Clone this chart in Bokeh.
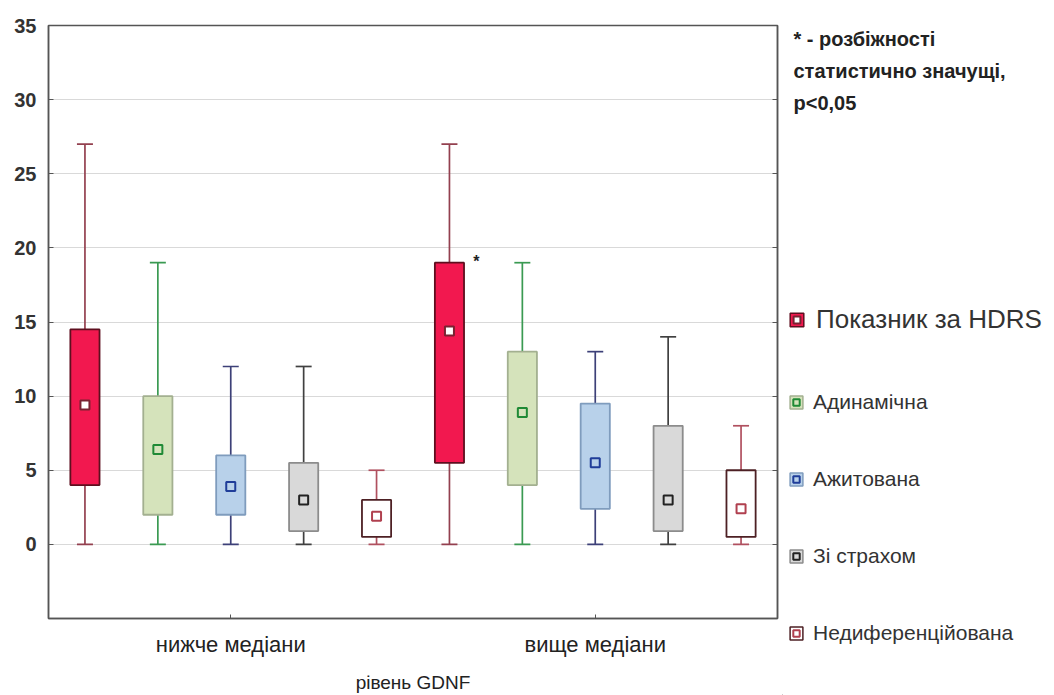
from bokeh.plotting import figure
from bokeh.layouts import row, column
from bokeh.models import (FixedTicker, LinearAxis, Range1d, Label, Legend,
                          LegendItem, ColumnDataSource)
from bokeh.embed import file_html
from bokeh.resources import INLINE

# ---------------- data ----------------
groups = ["нижче медіани", "вище медіани"]
series = ["Показник за HDRS", "Адинамічна", "Ажитована", "Зі страхом", "Недиференційована"]

# per series: [нижче медіани, вище медіани]
hdrs_min = [0, 0]
hdrs_q1 = [4, 5.5]
hdrs_mid = [9.4, 14.4]
hdrs_q3 = [14.5, 19]
hdrs_max = [27, 27]

adyn_min = [0, 0]
adyn_q1 = [2, 4]
adyn_mid = [6.4, 8.9]
adyn_q3 = [10, 13]
adyn_max = [19, 19]

azhyt_min = [0, 0]
azhyt_q1 = [2, 2.4]
azhyt_mid = [3.9, 5.5]
azhyt_q3 = [6, 9.5]
azhyt_max = [12, 13]

strakh_min = [0, 0]
strakh_q1 = [0.9, 0.9]
strakh_mid = [3, 3]
strakh_q3 = [5.5, 8]
strakh_max = [12, 14]

nedyf_min = [0, 0]
nedyf_q1 = [0.5, 0.5]
nedyf_mid = [1.9, 2.4]
nedyf_q3 = [3, 5]
nedyf_max = [5, 8]

y_ticks = [0, 5, 10, 15, 20, 25, 30, 35]
note_lines = ["* - розбіжності", "статистично значущі,", "p<0,05"]

stats = [
    (hdrs_min, hdrs_q1, hdrs_mid, hdrs_q3, hdrs_max),
    (adyn_min, adyn_q1, adyn_mid, adyn_q3, adyn_max),
    (azhyt_min, azhyt_q1, azhyt_mid, azhyt_q3, azhyt_max),
    (strakh_min, strakh_q1, strakh_mid, strakh_q3, strakh_max),
    (nedyf_min, nedyf_q1, nedyf_mid, nedyf_q3, nedyf_max),
]

# ---------------- styles ----------------
box_fill = ["#f2184f", "#d5e3bb", "#b8d1ea", "#d9d9d9", "#ffffff"]
box_line = ["#5e0f1f", "#a3b090", "#7f9cbd", "#8c8c8c", "#4d2024"]
whisk_col = ["#93404f", "#3a9a52", "#3d4078", "#404040", "#b0505f"]
mark_fill = ["#ffffff", "#d5e3bb", "#b8d1ea", "#d9d9d9", "#ffffff"]
mark_line = ["#7a2232", "#1f8a35", "#1f3d99", "#222222", "#b0404f"]

FONT = "Liberation Sans"
n_series = len(series)

# ---------------- main plot ----------------
p = figure(width=782, height=695, output_backend="svg", toolbar_location=None,
           x_range=Range1d(0.5, 10.5), y_range=Range1d(-5, 35),
           min_border_left=48, min_border_right=5, min_border_top=25,
           min_border_bottom=76, background_fill_color="white",
           border_fill_color="white")

for i, st in enumerate(stats):
    mn, q1, md, q3, mx = st
    xs = [g * n_series + i + 1 for g in range(len(groups))]
    src = ColumnDataSource(dict(x=xs, mn=mn, q1=q1, md=md, q3=q3, mx=mx))
    p.segment(x0="x", y0="mn", x1="x", y1="mx", source=src,
              line_color=whisk_col[i], line_width=1.7)
    p.scatter(x="x", y="mx", source=src, marker="dash", size=16,
              line_color=whisk_col[i], line_width=1.7)
    p.scatter(x="x", y="mn", source=src, marker="dash", size=16,
              line_color=whisk_col[i], line_width=1.7)
    p.vbar(x="x", bottom="q1", top="q3", width=0.4, source=src,
           fill_color=box_fill[i], line_color=box_line[i], line_width=1.8)
    p.scatter(x="x", y="md", source=src, marker="square", size=9,
              fill_color=mark_fill[i], line_color=mark_line[i], line_width=2)

group_centers = [g * n_series + (n_series + 1) / 2 for g in range(len(groups))]
p.xaxis.ticker = FixedTicker(ticks=group_centers)
p.xaxis.major_label_overrides = {c: groups[g] for g, c in enumerate(group_centers)}
p.xaxis.axis_label = "рівень GDNF"
p.xaxis.major_label_text_font = FONT
p.xaxis.major_label_text_font_size = "22px"
p.xaxis.major_label_text_color = "#222222"
p.xaxis.major_label_standoff = 13
p.xaxis.axis_label_text_font = FONT
p.xaxis.axis_label_text_font_size = "19px"
p.xaxis.axis_label_text_font_style = "normal"
p.xaxis.axis_label_text_color = "#222222"
p.xaxis.axis_label_standoff = 12
p.xaxis.major_tick_in = 4
p.xaxis.major_tick_out = 0
p.xaxis.minor_tick_line_color = None
p.xaxis.axis_line_color = "#555555"
p.xaxis.axis_line_width = 1.5
p.xaxis.major_tick_line_color = "#555555"

p.yaxis.ticker = FixedTicker(ticks=y_ticks)
p.yaxis.major_label_text_font = FONT
p.yaxis.major_label_text_font_size = "20px"
p.yaxis.major_label_text_font_style = "bold"
p.yaxis.major_label_text_color = "#333333"
p.yaxis.major_label_standoff = 12
p.yaxis.major_tick_in = 5
p.yaxis.major_tick_out = 0
p.yaxis.minor_tick_line_color = None
p.yaxis.axis_line_color = "#555555"
p.yaxis.axis_line_width = 1.5
p.yaxis.major_tick_line_color = "#555555"

right_axis = LinearAxis(ticker=FixedTicker(ticks=y_ticks),
                        major_label_overrides={t: "" for t in y_ticks},
                        major_tick_in=5, major_tick_out=0,
                        minor_tick_line_color=None,
                        axis_line_color="#555555", axis_line_width=1.5,
                        major_tick_line_color="#555555",
                        major_label_standoff=0)
p.add_layout(right_axis, "right")

p.xgrid.grid_line_color = None
p.ygrid.ticker = FixedTicker(ticks=y_ticks)
p.ygrid.grid_line_color = "#d9d9d9"
p.ygrid.grid_line_width = 1
p.outline_line_color = "#555555"
p.outline_line_width = 1.5

# asterisk marking the significant HDRS box (вище медіани)
p.add_layout(Label(x=n_series + 1, y=hdrs_q3[1], x_offset=27, y_offset=1,
                   text="*", text_font=FONT, text_font_size="16px",
                   text_font_style="bold", text_color="#222222",
                   text_baseline="middle", text_align="center"))

# ---------------- legend / note panel ----------------
W2, H2 = 270, 695
p2 = figure(width=W2, height=H2, output_backend="svg", toolbar_location=None,
            x_range=Range1d(0, W2), y_range=Range1d(0, H2),
            min_border=0, min_border_left=0, min_border_right=0,
            min_border_top=0, min_border_bottom=0,
            background_fill_color="white", border_fill_color="white")
p2.axis.visible = False
p2.grid.visible = False
p2.outline_line_color = None

legend_items = []
for i, name in enumerate(series):
    # legend proxies (kept far outside the visible range of this panel)
    proxy = ColumnDataSource(dict(x=[-10000], lo=[-10001], hi=[-10000], y=[-10000]))
    b = p2.vbar(x="x", bottom="lo", top="hi", width=1, source=proxy,
                fill_color=box_fill[i], line_color=box_line[i], line_width=1.5)
    m = p2.scatter(x="x", y="y", source=proxy, marker="square",
                   fill_color=mark_fill[i], line_color=mark_line[i], line_width=2)
    legend_items.append(LegendItem(label=name, renderers=[b, m]))

leg_a = Legend(items=legend_items[:1], location=(6, 360), orientation="vertical",
               glyph_width=17, glyph_height=17, label_standoff=11, padding=0, margin=0,
               label_height=30, spacing=0,
               label_text_font=FONT, label_text_font_size="26px",
               label_text_color="#333333",
               border_line_alpha=0, background_fill_alpha=0)
leg_b = Legend(items=legend_items[1:], location=(6, 50), orientation="vertical",
               glyph_width=16, glyph_height=16, label_standoff=9, padding=0, margin=0,
               label_height=25, spacing=52,
               label_text_font=FONT, label_text_font_size="21px",
               label_text_color="#333333",
               border_line_alpha=0, background_fill_alpha=0)
p2.add_layout(leg_a)
p2.add_layout(leg_b)

for k, line in enumerate(note_lines):
    p2.add_layout(Label(x=11, y=657 - 32 * k, x_units="screen", y_units="screen",
                        text=line, text_font=FONT, text_font_size="20px",
                        text_font_style="bold", text_color="#222222",
                        text_baseline="middle", text_align="left"))

layout = row(p, column(p2), spacing=0)
open("out.html", "w").write(file_html(layout, INLINE))
